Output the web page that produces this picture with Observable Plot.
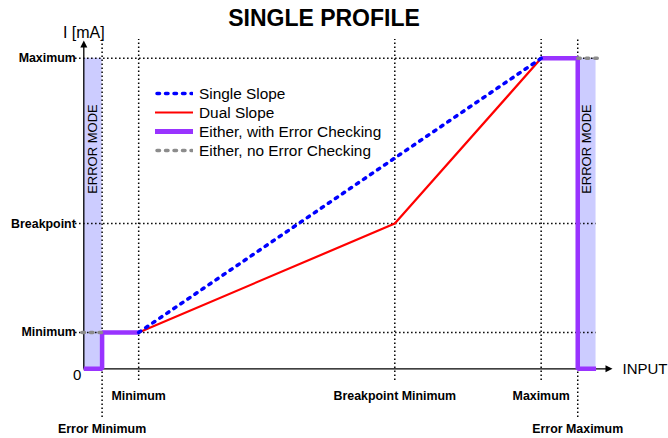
<!DOCTYPE html>
<html><head><meta charset="utf-8">
<script src="https://cdn.jsdelivr.net/npm/d3@7"></script>
<script src="https://cdn.jsdelivr.net/npm/@observablehq/plot@0.6"></script>
<style>
body{margin:0;background:#fff;font-family:"Liberation Sans",Arial,sans-serif;}
#wrap{position:relative;width:668px;height:438px;overflow:hidden;}
#title{height:23px;padding-top:7px;padding-right:20px;line-height:23px;font-size:23px;font-weight:bold;text-align:center;color:#000;}
#legend{position:absolute;left:155px;top:84px;font-size:15.4px;color:#000;}
.row{display:flex;align-items:center;height:19px;line-height:19px;white-space:nowrap;}
.row svg{width:38px;height:19px;margin-right:6px;flex:none;}
</style></head><body>
<div id="wrap"><div id="title">SINGLE PROFILE</div><div id="chart"></div><div id="legend"></div></div>
<script>
// ---- data (schematic units) ----
const yTickLabels = ["Minimum", "Breakpoint", "Maximum"];
const yTickValues = [1, 4, 8.55];
const xTopLabels = ["Minimum", "Breakpoint Minimum", "Maximum"];
const xTopValues = [3, 17, 25];
const xBottomLabels = ["Error Minimum", "Error Maximum"];
const xBottomValues = [1, 27];
const bandX1 = [0, 27];
const bandX2 = [1, 28];
const singleSlopeX = [3, 25];
const singleSlopeY = [1, 8.55];
const dualSlopeX = [3, 17, 25];
const dualSlopeY = [1, 4, 8.55];
const errLeftX = [0, 1, 1, 3];
const errLeftY = [0, 0, 1, 1];
const errRightX = [25, 27, 27, 28];
const errRightY = [8.55, 8.55, 0, 0];
const noErrLeftX = [-0.1, 1];
const noErrLeftY = [1, 1];
const noErrRightX = [27, 28.1];
const noErrRightY = [8.55, 8.55];
const legendLabels = ["Single Slope", "Dual Slope", "Either, with Error Checking", "Either, no Error Checking"];

const xAxisEnd = 28.9, yAxisTop = 9.04, yMax = 8.55;
const T = 30; // title block height
const FONT = "Liberation Sans, Arial, sans-serif";
const BLUE = "#0000ff", RED = "#ff0000", PURPLE = "#9933ff", GRAY = "#8c8c8c", BAND = "#ccccff";

const pts = (xs, ys) => xs.map((x, i) => ({x, y: ys[i]}));
const bands = bandX1.map((x1, i) => ({x1, x2: bandX2[i], y1: 0, y2: yMax}));
const yTicks = yTickLabels.map((label, i) => ({label, v: yTickValues[i]}));
const xTop = xTopLabels.map((label, i) => ({label, v: xTopValues[i]}));
const xBottom = xBottomLabels.map((label, i) => ({label, v: xBottomValues[i]}));

const arrowUp = {draw(ctx) { ctx.moveTo(0, 0); ctx.lineTo(-3.5, 7); ctx.lineTo(3.5, 7); ctx.closePath(); }};
const arrowRight = {draw(ctx) { ctx.moveTo(0, 0); ctx.lineTo(-7, -3.5); ctx.lineTo(-7, 3.5); ctx.closePath(); }};
const dotted = {stroke: "#000", strokeWidth: 1.5, strokeDasharray: "1.5,2.5"};
const DASH = "2.5,6";

const chart = Plot.plot({
  width: 668, height: 408, margin: 0,
  style: {overflow: "visible", background: "transparent"},
  x: {domain: [0, xAxisEnd], range: [83.3, 612], axis: null},
  y: {domain: [0, yAxisTop], range: [368.3 - T, 40 - T], axis: null},
  marks: [
    Plot.rect(bands, {x1: "x1", x2: "x2", y1: "y1", y2: "y2", fill: BAND}),
    Plot.ruleY(yTickValues, {x1: -0.45, x2: 28, ...dotted}),
    Plot.ruleX(xTopValues, {y1: -0.32, y2: yAxisTop + 0.03, ...dotted}),
    Plot.ruleX(xBottomValues, {y1: -1.34, y2: yAxisTop + 0.03, ...dotted}),
    Plot.ruleX([0], {y1: 0, y2: yAxisTop - 0.1, stroke: "#000", strokeWidth: 1.3}),
    Plot.ruleY([0], {x1: 0, x2: xAxisEnd - 0.2, stroke: "#000", strokeWidth: 1.3}),
    Plot.dot([{x: 0, y: yAxisTop}], {x: "x", y: "y", symbol: arrowUp, fill: "#000", stroke: null}),
    Plot.dot([{x: xAxisEnd, y: 0}], {x: "x", y: "y", symbol: arrowRight, fill: "#000", stroke: null}),
    Plot.line(pts(errLeftX, errLeftY), {x: "x", y: "y", stroke: PURPLE, strokeWidth: 4.5, strokeLinejoin: "miter", strokeLinecap: "butt"}),
    Plot.line(pts(errRightX, errRightY), {x: "x", y: "y", stroke: PURPLE, strokeWidth: 4.5, strokeLinejoin: "miter", strokeLinecap: "butt"}),
    Plot.line(pts(noErrLeftX, noErrLeftY), {x: "x", y: "y", stroke: GRAY, strokeWidth: 3.5, strokeLinecap: "round", strokeDasharray: DASH}),
    Plot.line(pts(noErrRightX, noErrRightY), {x: "x", y: "y", stroke: GRAY, strokeWidth: 3.5, strokeLinecap: "round", strokeDasharray: DASH}),
    Plot.line(pts(dualSlopeX, dualSlopeY), {x: "x", y: "y", stroke: RED, strokeWidth: 2.2}),
    Plot.line(pts(singleSlopeX, singleSlopeY), {x: "x", y: "y", stroke: BLUE, strokeWidth: 3.5, strokeLinecap: "round", strokeDasharray: DASH}),
    Plot.text(yTicks, {x: 0, y: "v", text: "label", textAnchor: "end", dx: -8, fontFamily: FONT, fontWeight: "bold", fontSize: 12.4, fill: "#000"}),
    Plot.text(["0"], {x: 0, y: 0, text: d => d, textAnchor: "end", dx: -2.5, dy: 6, fontFamily: FONT, fontSize: 15, fill: "#000"}),
    Plot.text(["I [mA]"], {x: 0, y: yAxisTop, text: d => d, dy: -8, fontFamily: FONT, fontSize: 16, fill: "#000"}),
    Plot.text(["INPUT"], {x: xAxisEnd, y: 0, text: d => d, textAnchor: "start", dx: 10, fontFamily: FONT, fontSize: 15, fill: "#000"}),
    Plot.text(xTop, {x: "v", y: 0, text: "label", dy: 27.5, fontFamily: FONT, fontWeight: "bold", fontSize: 12.4, fill: "#000"}),
    Plot.text(xBottom, {x: "v", y: 0, text: "label", dy: 60.5, fontFamily: FONT, fontWeight: "bold", fontSize: 12.4, fill: "#000"}),
    Plot.text(bands, {x: d => (d.x1 + d.x2) / 2, y: 6.05, text: () => "ERROR MODE", rotate: -90, fontFamily: FONT, fontSize: 13, fill: "#000"})
  ]
});
document.getElementById("chart").appendChild(chart);

// legend
const legendStyles = [
  {stroke: BLUE, w: 3.5, dash: DASH, cap: "round"},
  {stroke: RED, w: 2.2, dash: null, cap: "butt"},
  {stroke: PURPLE, w: 5, dash: null, cap: "butt"},
  {stroke: GRAY, w: 3.5, dash: DASH, cap: "round"}
];
const legend = document.getElementById("legend");
legendLabels.forEach((label, i) => {
  const s = legendStyles[i];
  const row = document.createElement("div");
  row.className = "row";
  row.innerHTML = `<svg viewBox="0 0 38 19"><line x1="${s.cap === "round" ? 2 : 0}" x2="${s.cap === "round" ? 37 : 38}" y1="9.5" y2="9.5" stroke="${s.stroke}" stroke-width="${s.w}" stroke-linecap="${s.cap}" ${s.dash ? `stroke-dasharray="${s.dash}"` : ""}/></svg><span>${label}</span>`;
  legend.appendChild(row);
});
</script>
</body></html>
